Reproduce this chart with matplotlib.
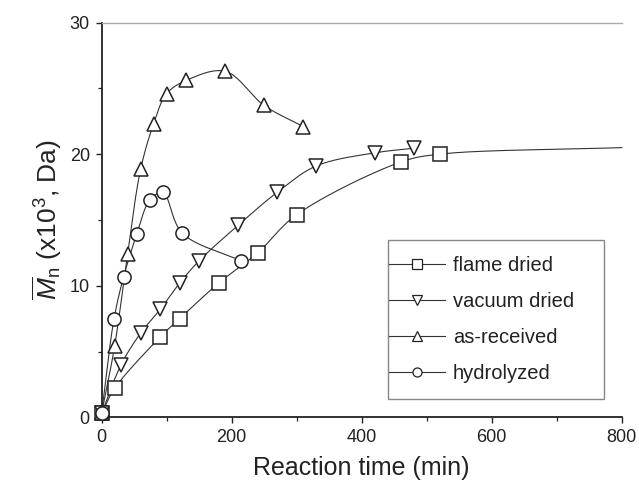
import numpy as np
import matplotlib
matplotlib.use("Agg")
import matplotlib.pyplot as plt
from matplotlib.ticker import MultipleLocator
from matplotlib.patches import Rectangle

plt.rcParams['font.family'] = ['Liberation Sans', 'DejaVu Sans']
plt.rcParams['mathtext.fontset'] = 'custom'
plt.rcParams['mathtext.rm'] = 'Liberation Sans'
plt.rcParams['mathtext.it'] = 'Liberation Sans:italic'

# ---- data ----
flame_x = [0, 20, 90, 120, 180, 240, 300, 460, 520]
flame_y = [0.3, 2.2, 6.1, 7.5, 10.2, 12.5, 15.4, 19.4, 20.0]
flame_tail_x = [800]          # curve continues without markers
flame_tail_y = [20.5]

vac_x = [0, 30, 60, 90, 120, 150, 210, 270, 330, 420, 480]
vac_y = [0.3, 4.0, 6.4, 8.2, 10.2, 11.9, 14.6, 17.1, 19.1, 20.1, 20.45]

asr_x = [0, 20, 40, 60, 80, 100, 130, 190, 250, 310]
asr_y = [0.3, 5.4, 12.4, 18.85, 22.3, 24.6, 25.6, 26.3, 23.7, 22.1]

hyd_x = [0, 19, 34, 54, 74, 94, 124, 214]
hyd_y = [0.3, 7.45, 10.7, 13.9, 16.5, 17.1, 14.0, 11.9]

labels = ['flame dried', 'vacuum dried', 'as-received', 'hydrolyzed']
markers = ['s', 'v', '^', 'o']

# axis extent in pixels, used only to make the connecting curve smooth on screen
SX = 520.0 / 800.0
SY = 395.0 / 30.0


def smooth(x, y, n=40, alpha=0.5):
    """Centripetal Catmull-Rom curve through the given points (drawing only)."""
    x = np.asarray(x, float); y = np.asarray(y, float)
    P = np.column_stack([x * SX, y * SY])
    if len(P) < 3:
        return x, y
    P = np.vstack([2 * P[0] - P[1], P, 2 * P[-1] - P[-2]])
    out = []
    for i in range(1, len(P) - 2):
        p0, p1, p2, p3 = P[i - 1], P[i], P[i + 1], P[i + 2]
        def tj(ti, a, b):
            return ti + max(np.linalg.norm(b - a), 1e-9) ** alpha
        t0 = 0.0
        t1 = tj(t0, p0, p1)
        t2 = tj(t1, p1, p2)
        t3 = tj(t2, p2, p3)
        t = np.linspace(t1, t2, n)[:, None]
        A1 = (t1 - t) / (t1 - t0) * p0 + (t - t0) / (t1 - t0) * p1
        A2 = (t2 - t) / (t2 - t1) * p1 + (t - t1) / (t2 - t1) * p2
        A3 = (t3 - t) / (t3 - t2) * p2 + (t - t2) / (t3 - t2) * p3
        B1 = (t2 - t) / (t2 - t0) * A1 + (t - t0) / (t2 - t0) * A2
        B2 = (t3 - t) / (t3 - t1) * A2 + (t - t1) / (t3 - t1) * A3
        C = (t2 - t) / (t2 - t1) * B1 + (t - t1) / (t2 - t1) * B2
        out.append(C if i == 1 else C[1:])
    C = np.vstack(out)
    return C[:, 0] / SX, C[:, 1] / SY


fig = plt.figure(figsize=(6.39, 4.91), dpi=100)
ax = fig.add_axes([0.159, 0.150, 0.814, 0.804])

series = [
    (flame_x + flame_tail_x, flame_y + flame_tail_y, flame_x, flame_y),
    (vac_x, vac_y, vac_x, vac_y),
    (asr_x, asr_y, asr_x, asr_y),
    (hyd_x, hyd_y, hyd_x, hyd_y),
]
lc = '#333333'
handles = []
for (cx, cy, mx, my), lab, mk in zip(series, labels, markers):
    sx, sy = smooth(cx, cy)
    ax.plot(sx, sy, color=lc, lw=0.8, zorder=2, clip_on=False)
    ax.plot(mx, my, linestyle='none', marker=mk, ms=9.5, mfc='white',
            mec='#222222', mew=1.1, zorder=3, clip_on=False)
    h, = ax.plot([], [], color=lc, lw=0.8, marker=mk, ms=6.5, mfc='white',
                 mec='#222222', mew=0.9, label=lab)
    handles.append(h)

ax.set_xlim(0, 800)
ax.set_ylim(0, 30)
ax.xaxis.set_major_locator(MultipleLocator(200))
ax.xaxis.set_minor_locator(MultipleLocator(100))
ax.yaxis.set_major_locator(MultipleLocator(10))
ax.yaxis.set_minor_locator(MultipleLocator(5))
ax.tick_params(which='major', direction='out', length=4.5, width=1.0,
               labelsize=13, colors='#222222', pad=4)
ax.tick_params(which='minor', direction='out', length=3, width=0.9,
               colors='#222222')

ax.spines['right'].set_visible(False)
ax.spines['top'].set_color('#aaaaaa')
ax.spines['top'].set_linewidth(1.0)
for s in ['left', 'bottom']:
    ax.spines[s].set_linewidth(1.3)
    ax.spines[s].set_color('#222222')

ax.set_xlabel('Reaction time (min)', fontsize=18, color='#222222', labelpad=7)
ax.set_ylabel(r'$\overline{M}_{\rm n}$ (x10$^3$, Da)', fontsize=19,
              color='#222222', labelpad=4)

# legend frame
ax.add_patch(Rectangle((0.551, 0.046), 0.415, 0.403, transform=ax.transAxes,
                       facecolor='white', edgecolor='#888888', lw=1.0,
                       zorder=4, clip_on=False))
leg = ax.legend(handles=handles, loc='center left',
                bbox_to_anchor=(0.553, 0.2475), fontsize=14.5, frameon=False,
                handlelength=2.75, handletextpad=0.4, labelspacing=0.85,
                borderpad=0, borderaxespad=0)
leg.set_zorder(5)
for t in leg.get_texts():
    t.set_color('#222222')

fig.savefig('out.png', dpi=100)
